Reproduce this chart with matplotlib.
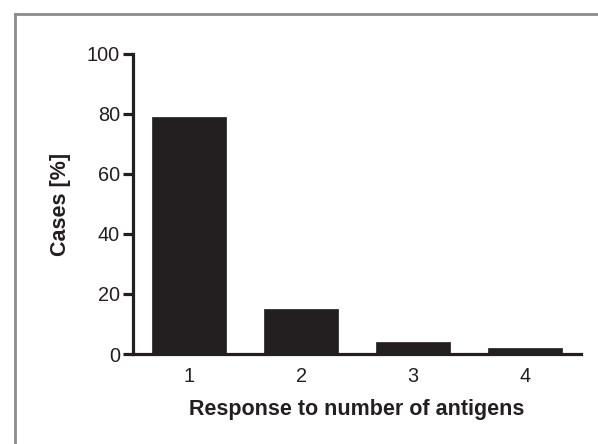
import matplotlib.pyplot as plt
from matplotlib.lines import Line2D

# Daten
categories = [1, 2, 3, 4]
cases_pct = [79, 15, 4, 2]
y_ticks = [0, 20, 40, 60, 80, 100]

plt.rcParams['font.family'] = ['Liberation Sans', 'DejaVu Sans']

fig = plt.figure(figsize=(5.98, 4.44), dpi=100)
ax = fig.add_axes([0.2224, 0.2027, 0.7492, 0.6757])

ax.bar(categories, cases_pct, width=0.66, color='#231f20', edgecolor='#231f20', linewidth=0.5)

ax.set_xlim(0.5, 4.5)
ax.set_ylim(0, 100)
ax.set_yticks(y_ticks)
ax.set_xticks(categories)

for side in ['top', 'right']:
    ax.spines[side].set_visible(False)
for side in ['left', 'bottom']:
    ax.spines[side].set_linewidth(2.3)
    ax.spines[side].set_color('#231f20')

ax.tick_params(axis='y', length=7, width=2.3, color='#231f20', labelsize=14.3, pad=2.5, labelcolor='#231f20')
ax.tick_params(axis='x', length=0, labelsize=14.3, pad=9, labelcolor='#231f20')

ax.set_ylabel('Cases [%]', fontsize=15.5, fontweight='bold', color='#231f20', labelpad=11)
ax.set_xlabel('Response to number of antigens', fontsize=15.5, fontweight='bold', color='#231f20', labelpad=10)

# grauer Rahmen oben und links
fig.add_artist(Line2D([14.5 / 598, 14.5 / 598], [0, 1 - 14.5 / 444], transform=fig.transFigure, color='#8c8c8c', lw=2))
fig.add_artist(Line2D([14.5 / 598, 1], [1 - 14.5 / 444, 1 - 14.5 / 444], transform=fig.transFigure, color='#8c8c8c', lw=2))

fig.savefig('out.png', dpi=100)
